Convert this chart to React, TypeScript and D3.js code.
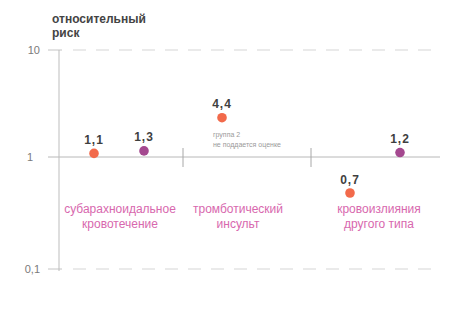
import React from "react";
import * as d3 from "d3";

const groups = ["subarachnoid", "thrombotic", "other"];
const groupLabels = [
  ["субарахноидальное", "кровотечение"],
  ["тромботический", "инсульт"],
  ["кровоизлияния", "другого типа"],
];
const series = ["group1", "group2"];
// Value labels as printed on the chart
const group1Labels = ["1,1", "4,4", "0,7"];
const group2Labels = ["1,3", null, "1,2"];
// Plotted positions (schematic log scale)
const group1Values = [1.08, 2.33, 0.477];
const group2Values = [1.14, null, 1.1];
const yTicks = [10, 1, 0.1];
const yTickLabels = ["10", "1", "0,1"];
const yTitle = ["относительный", "риск"];
const note = ["группа 2", "не поддается оценке"];

const W = 473;
const H = 320;
const colors = ["#f26a4b", "#a4488f"];

export default function App() {
  const y = d3.scaleLog<number>().domain([0.1, 1, 10]).range([269, 157, 50]);
  const x = d3.scaleBand<string>().domain(groups).range([56, 440]);
  const inner = d3.scalePoint<string>().domain(series).range([38, 88]);
  const axisX = 59;
  const font = "'Liberation Sans', Arial, sans-serif";
  const valuesBySeries = [group1Values, group2Values];
  const labelsBySeries = [group1Labels, group2Labels];
  const y1 = y(1);

  return (
    <svg width={W} height={H} style={{ position: "absolute", left: 0, top: 0, background: "#fff" }} fontFamily={font}>
      {/* title */}
      {yTitle.map((t, i) => (
        <text key={t} x={52} y={23 + i * 14} fontSize={12} fontWeight="bold" fill="#444">
          {t}
        </text>
      ))}
      {/* dashed grid lines at 10 and 0.1 */}
      {[10, 0.1].map((v) => (
        <g key={v}>
          <line x1={48} x2={62} y1={y(v)} y2={y(v)} stroke="#c4c4c4" strokeWidth={1} />
          <line x1={73} x2={440} y1={y(v)} y2={y(v)} stroke="#d6d6d6" strokeWidth={1.2} strokeDasharray="13 10" />
        </g>
      ))}
      {/* baseline at 1 */}
      <line x1={48} x2={440} y1={y1} y2={y1} stroke="#b8b8b8" strokeWidth={1} />
      {/* separators */}
      {groups.slice(1).map((g) => (
        <line key={g} x1={x(g)! - 1} x2={x(g)! - 1} y1={y1 - 9} y2={y1 + 10} stroke="#a8a8a8" strokeWidth={1} />
      ))}
      {/* y axis */}
      <line x1={axisX} x2={axisX} y1={y(10)} y2={y(0.1) + 2} stroke="#bdbdbd" strokeWidth={1} />
      {yTicks.map((t, i) => (
        <text key={t} x={t === 1 ? 33 : 40} y={y(t) + 4} fontSize={11} textAnchor="end" fill="#7a7a7a">
          {yTickLabels[i]}
        </text>
      ))}
      {/* note */}
      {note.map((t, i) => (
        <text key={t} x={213} y={137 + i * 10} fontSize={7} fill="#9a9a9a">
          {t}
        </text>
      ))}
      {/* points */}
      {groups.map((g, gi) =>
        series.map((s, si) => {
          const v = valuesBySeries[si][gi];
          if (v == null) return null;
          const cx = x(g)! + inner(s)!;
          const cy = y(v);
          return (
            <g key={g + s}>
              <circle cx={cx} cy={cy} r={4.8} fill={colors[si]} />
              <text x={cx} y={cy - 9.5} fontSize={12} fontWeight="bold" textAnchor="middle" fill="#3f3f3f" letterSpacing={1}>
                {labelsBySeries[si][gi]}
              </text>
            </g>
          );
        })
      )}
      {/* category labels */}
      {groups.map((g, gi) =>
        groupLabels[gi].map((t, li) => (
          <text
            key={g + li}
            x={x(g)! + x.bandwidth() / 2 + (gi === 1 ? -10 : gi === 2 ? 3 : 0)}
            y={213 + li * 15}
            fontSize={12}
            textAnchor="middle"
            fill="#d868ae"
          >
            {t}
          </text>
        ))
      )}
    </svg>
  );
}
